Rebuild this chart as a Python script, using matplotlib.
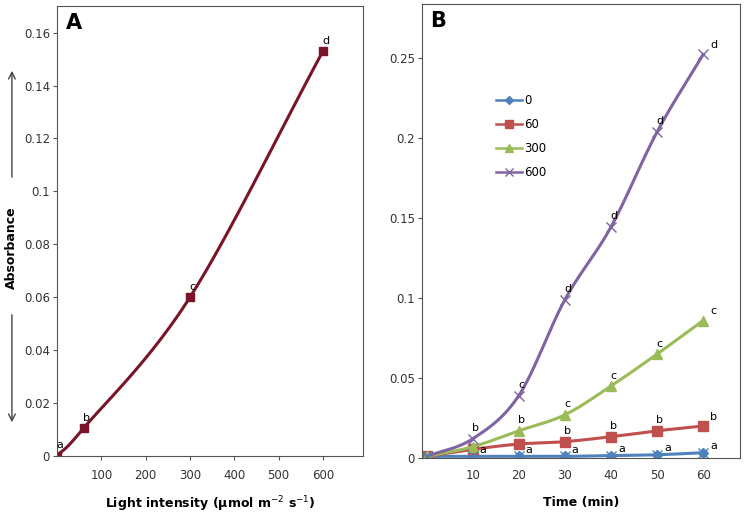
import numpy as np
import matplotlib
matplotlib.use("Agg")
import matplotlib.pyplot as plt
from matplotlib.patches import FancyArrowPatch

# --- panel A data ---
light = [0, 60, 300, 600]
absorb_a = [0.0, 0.0105, 0.060, 0.153]
letters_a = ["a", "b", "c", "d"]

# --- panel B data ---
time_min = [0, 10, 20, 30, 40, 50, 60]
series_names = ["0", "60", "300", "600"]
abs_0 = [0.001, 0.001, 0.001, 0.001, 0.0015, 0.002, 0.0033]
abs_60 = [0.001, 0.0054, 0.0087, 0.0102, 0.0133, 0.017, 0.020]
abs_300 = [0.001, 0.007, 0.017, 0.027, 0.045, 0.065, 0.086]
abs_600 = [0.001, 0.012, 0.039, 0.099, 0.1445, 0.204, 0.2525]
letters_0 = ["", "a", "a", "a", "a", "a", "a"]
letters_60 = ["", "", "", "b", "b", "b", "b"]
letters_300 = ["", "", "b", "c", "c", "c", "c"]
letters_600 = ["", "b", "c", "d", "d", "d", "d"]

colors = ["#4F81BD", "#C0504D", "#9BBB59", "#8064A2"]
dark_red = "#7A1428"


def smooth(x, y, n=30):
    # Catmull-Rom curve through the points (like Excel "smoothed line")
    x = np.asarray(x, float)
    y = np.asarray(y, float)
    px = np.concatenate([[2 * x[0] - x[1]], x, [2 * x[-1] - x[-2]]])
    py = np.concatenate([[2 * y[0] - y[1]], y, [2 * y[-1] - y[-2]]])
    xs, ys = [], []
    t = np.linspace(0, 1, n)
    for i in range(1, len(px) - 2):
        for p, out in ((px, xs), (py, ys)):
            p0, p1, p2, p3 = p[i - 1], p[i], p[i + 1], p[i + 2]
            out.extend(0.5 * (2 * p1 + (-p0 + p2) * t
                              + (2 * p0 - 5 * p1 + 4 * p2 - p3) * t ** 2
                              + (-p0 + 3 * p1 - 3 * p2 + p3) * t ** 3))
    return np.array(xs), np.array(ys)


plt.rcParams["font.family"] = "DejaVu Sans"
fig = plt.figure(figsize=(7.45, 5.14), dpi=100)

# ---------------- panel A ----------------
ax1 = fig.add_axes([0.0765, 0.1128, 0.4105, 0.8752])
sx, sy = smooth(light, absorb_a)
ax1.plot(sx, sy, color=dark_red, lw=2.2)
ax1.plot(light, absorb_a, ls="none", marker="s", ms=6, color=dark_red)
for xv, yv, lab in zip(light, absorb_a, letters_a):
    ax1.annotate(lab, (xv, yv), xytext=(2, 4), textcoords="offset points",
                 fontsize=8, ha="center", va="bottom")
ax1.set_xlim(0, 690)
ax1.set_ylim(0, 0.17)
ax1.set_xticks([100, 200, 300, 400, 500, 600])
ax1.set_yticks(np.arange(0, 0.161, 0.02))
ax1.set_yticklabels(["0", "0.02", "0.04", "0.06", "0.08", "0.1", "0.12", "0.14", "0.16"])
ax1.tick_params(labelsize=8.5, length=3, color="#555555", colors="#333333")
ax1.tick_params(axis="y", pad=2)
ax1.tick_params(axis="x", pad=6)
for s in ax1.spines.values():
    s.set_color("#555555")
ax1.text(0.03, 0.985, "A", transform=ax1.transAxes, fontsize=15,
         fontweight="bold", va="top")
ax1.set_xlabel("Light intensity (µmol m$^{-2}$ s$^{-1}$)", fontsize=9,
               fontweight="bold", labelpad=9)
fig.text(0.016, 0.5175, "Absorbance", rotation=90, fontsize=9,
         fontweight="bold", ha="center", va="center")
fig.add_artist(FancyArrowPatch(
    (0.016, 1 - 180 / 514), (0.016, 1 - 68 / 514), transform=fig.transFigure,
    arrowstyle="->", mutation_scale=12, color="#444444", lw=1))
fig.add_artist(FancyArrowPatch(
    (0.016, 1 - 312 / 514), (0.016, 1 - 425 / 514), transform=fig.transFigure,
    arrowstyle="->", mutation_scale=12, color="#444444", lw=1))

# ---------------- panel B ----------------
ax2 = fig.add_axes([0.5664, 0.109, 0.4269, 0.883])
all_series = [abs_0, abs_60, abs_300, abs_600]
all_letters = [letters_0, letters_60, letters_300, letters_600]
markers = ["D", "s", "^", "x"]
msizes = [5, 7, 7, 7]
for vals, col, mk, ms, name in zip(all_series, colors, markers, msizes, series_names):
    sx, sy = smooth(time_min, vals)
    ax2.plot(sx, sy, color=col, lw=2.2)
    ax2.plot(time_min, vals, ls="none", marker=mk, ms=ms, color=col, mew=1)
    ax2.plot([], [], color=col, lw=1.8, marker=mk, ms=ms - 1, label=name)
# blue markers look like diamond + cross
ax2.plot(time_min, abs_0, ls="none", marker="x", ms=7, color=colors[0], mew=1)

for vals, labs, k in zip(all_series, all_letters, range(4)):
    for xv, yv, lab in zip(time_min, vals, labs):
        if not lab:
            continue
        if k == 0:
            off, ha = (5, 1), "left"
        elif xv == 60:
            off, ha = (5, 3), "left"
        else:
            off, ha = (2, 4), "center"
        ax2.annotate(lab, (xv, yv), xytext=off, textcoords="offset points",
                     fontsize=8, ha=ha, va="bottom")

ax2.set_xlim(-1, 68)
ax2.set_ylim(0, 0.284)
ax2.set_xticks([10, 20, 30, 40, 50, 60])
ax2.set_yticks([0, 0.05, 0.1, 0.15, 0.2, 0.25])
ax2.set_yticklabels(["0", "0.05", "0.1", "0.15", "0.2", "0.25"])
ax2.tick_params(labelsize=8.5, colors="#333333", color="#555555")
ax2.tick_params(axis="x", length=0, pad=8)
ax2.tick_params(axis="y", length=3, pad=2)
for s in ax2.spines.values():
    s.set_color("#555555")
ax2.text(0.025, 0.985, "B", transform=ax2.transAxes, fontsize=15,
         fontweight="bold", va="top")
ax2.set_xlabel("Time (min)", fontsize=9, fontweight="bold", labelpad=10)
ax2.legend(loc="upper left", bbox_to_anchor=(0.2, 0.826), frameon=False,
           fontsize=8.5, handlelength=2.2, handletextpad=0.2, labelspacing=0.95)

fig.savefig("out.png", dpi=100)
